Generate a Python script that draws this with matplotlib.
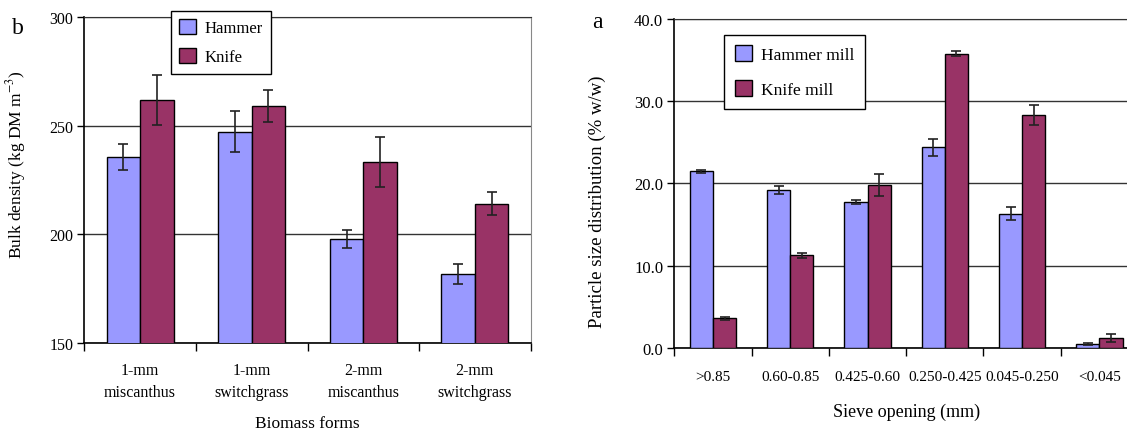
import matplotlib

matplotlib.use("Agg")

import matplotlib.pyplot as plt
import numpy as np


plt.rcParams["font.family"] = ["Liberation Serif", "DejaVu Serif"]
plt.rcParams["mathtext.fontset"] = "stix"


HAMMER_COLOR = "#9999FF"
KNIFE_COLOR = "#993366"
GRID_COLOR = "#333333"


# Panel b: bulk density
DENSITY_CATEGORIES = [
    "1-mm\nmiscanthus",
    "1-mm\nswitchgrass",
    "2-mm\nmiscanthus",
    "2-mm\nswitchgrass",
]
DENSITY_HAMMER = [235.6, 247.2, 197.7, 181.7]
DENSITY_HAMMER_ERR = [6.0, 9.5, 4.1, 4.5]
DENSITY_KNIFE = [262.0, 259.2, 233.3, 214.1]
DENSITY_KNIFE_ERR = [11.5, 7.3, 11.6, 5.2]
DENSITY_TICKS = [150, 200, 250, 300]


# Panel a: particle size distribution
SIEVE_CATEGORIES = [
    ">0.85",
    "0.60-0.85",
    "0.425-0.60",
    "0.250-0.425",
    "0.045-0.250",
    "<0.045",
]
SIEVE_HAMMER = [21.5, 19.2, 17.75, 24.4, 16.35, 0.5]
SIEVE_HAMMER_ERR = [0.2, 0.5, 0.3, 1.0, 0.8, 0.12]
SIEVE_KNIFE = [3.6, 11.3, 19.8, 35.75, 28.35, 1.25]
SIEVE_KNIFE_ERR = [0.15, 0.3, 1.3, 0.3, 1.2, 0.5]
SIEVE_TICKS = [0, 10, 20, 30, 40]


def draw_grouped_bars(ax, categories, hammer, hammer_err, knife, knife_err,
                      label_size, label_pad):
    x = np.arange(len(categories))
    width = 0.3
    err_style = dict(ecolor="#222222", elinewidth=1.2, capsize=3.5, capthick=1.2)

    ax.bar(x - width / 2, hammer, width, yerr=hammer_err, color=HAMMER_COLOR,
           edgecolor="black", linewidth=1.0, error_kw=err_style, zorder=3)
    ax.bar(x + width / 2, knife, width, yerr=knife_err, color=KNIFE_COLOR,
           edgecolor="black", linewidth=1.0, error_kw=err_style, zorder=3)

    ax.set_xlim(-0.5, len(categories) - 0.5)
    ax.set_xticks(np.arange(len(categories) + 1) - 0.5)
    ax.set_xticklabels([])
    ax.set_xticks(x, minor=True)
    ax.set_xticklabels(categories, minor=True, fontsize=label_size,
                       linespacing=1.45)
    ax.tick_params(axis="x", which="major", direction="out", length=6,
                   width=1.0)
    ax.tick_params(axis="x", which="minor", length=0, pad=label_pad)
    ax.tick_params(axis="y", direction="out", length=5, width=1.0,
                   labelsize=label_size, pad=3)

    ax.yaxis.grid(True, color=GRID_COLOR, linewidth=1.0, zorder=0)
    ax.set_axisbelow(True)
    ax.spines["left"].set_linewidth(1.2)
    ax.spines["bottom"].set_linewidth(1.2)
    ax.spines["top"].set_color(GRID_COLOR)
    ax.spines["right"].set_color("#888888")


def main() -> None:
    fig = plt.figure(figsize=(11.27, 4.31), dpi=100)

    # left panel (b)
    ax_b = fig.add_axes([0.0748, 0.2019, 0.3961, 0.7563])
    draw_grouped_bars(ax_b, DENSITY_CATEGORIES, DENSITY_HAMMER,
                      DENSITY_HAMMER_ERR, DENSITY_KNIFE, DENSITY_KNIFE_ERR,
                      11.5, 14)
    ax_b.set_ylim(150, 300)
    ax_b.set_yticks(DENSITY_TICKS)
    ax_b.set_ylabel("Bulk density (kg DM m$^{-3}$)", fontsize=12.5)
    ax_b.yaxis.set_label_coords(-0.126, 0.55)
    ax_b.set_xlabel("Biomass forms", fontsize=12.5, labelpad=11)
    ax_b.legend(["Hammer", "Knife"], loc="upper left",
                bbox_to_anchor=(0.1517, 0.9722), bbox_transform=fig.transFigure,
                borderaxespad=0, fontsize=12, handlelength=1.0,
                handleheight=1.0, handletextpad=0.5, labelspacing=0.7,
                borderpad=0.5, fancybox=False, edgecolor="black",
                framealpha=1).get_frame().set_linewidth(1.0)
    fig.text(0.0107, 0.935, "b", fontsize=17, ha="left", va="center")

    # right panel (a), runs past the right edge of the figure
    ax_a = fig.add_axes([0.5983, 0.1903, 0.4115, 0.7633])
    draw_grouped_bars(ax_a, SIEVE_CATEGORIES, SIEVE_HAMMER, SIEVE_HAMMER_ERR,
                      SIEVE_KNIFE, SIEVE_KNIFE_ERR, 11, 16)
    ax_a.set_ylim(0, 40)
    ax_a.set_yticks(SIEVE_TICKS)
    ax_a.set_yticklabels([f"{v:.1f}" for v in SIEVE_TICKS], fontsize=12)
    ax_a.set_ylabel("Particle size distribution (% w/w)", fontsize=13.5)
    ax_a.yaxis.set_label_coords(-0.147, 0.447)
    ax_a.set_xlabel("Sieve opening (mm)", fontsize=13, labelpad=14)
    ax_a.legend(["Hammer mill", "Knife mill"], loc="upper left",
                bbox_to_anchor=(0.6427, 0.9165), bbox_transform=fig.transFigure,
                borderaxespad=0, fontsize=12.5, handlelength=1.0,
                handleheight=1.0, handletextpad=0.5, labelspacing=1.0,
                borderpad=0.6, fancybox=False, edgecolor="black",
                framealpha=1).get_frame().set_linewidth(1.0)
    fig.text(0.525, 0.948, "a", fontsize=17, ha="left", va="center")

    fig.savefig("out.png", dpi=100)
    plt.close(fig)


if __name__ == "__main__":
    main()
